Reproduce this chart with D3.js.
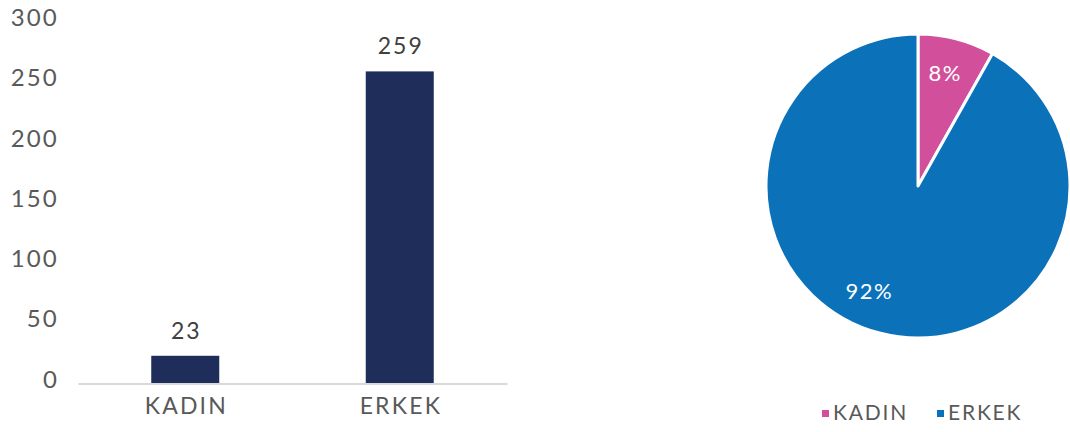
<!DOCTYPE html>
<html><head><meta charset="utf-8">
<script src="https://cdn.jsdelivr.net/npm/d3@7"></script>
<style>body{margin:0;background:#fff}svg{display:block}text{font-family:Lato,"Noto Sans",sans-serif}</style>
</head><body>
<svg id="c" width="1070" height="432"></svg>
<script>
const categories = ["KADIN", "ERKEK"];
const values = [23, 259];
const yTicks = [0, 50, 100, 150, 200, 250, 300];
const pieLabels = ["8%", "92%"];
const colorsPie = ["#D24F9B", "#0B72BA"];

const svg = d3.select("#c");

// Bar chart
const x = d3.scaleBand().domain(categories).range([78, 507]).padding(0);
const y = d3.scaleLinear().domain([0, 300]).range([383.5, 22]);
const barW = x.bandwidth() * 0.317;

const yAxis = d3.axisLeft(y).tickValues(yTicks).tickSize(0).tickPadding(0);
const gy = svg.append("g").attr("transform", "translate(59,-4)").call(yAxis);
gy.select(".domain").remove();
gy.selectAll("text").attr("font-size", 24).attr("fill", "#595959").attr("font-family", "Lato")
  .attr("letter-spacing", 2.2);

svg.selectAll("rect.bar").data(values).enter().append("rect")
  .attr("class", "bar")
  .attr("x", (d, i) => x(categories[i]) + x.bandwidth() / 2 - barW / 2)
  .attr("width", barW)
  .attr("y", d => y(d))
  .attr("height", d => y(0) - y(d))
  .attr("fill", "#1E2D5A");

const xAxis = d3.axisBottom(x).tickSize(0).tickPadding(14);
const gx = svg.append("g").attr("transform", `translate(0,${y(0)})`).call(xAxis);
gx.select(".domain").attr("stroke", "#D9D9D9").attr("stroke-width", 2.2);
gx.selectAll("text").attr("font-size", 23).attr("fill", "#595959").attr("font-family", "Lato")
  .attr("letter-spacing", 2.2).attr("dx", 1.1);

svg.selectAll("text.val").data(values).enter().append("text")
  .attr("class", "val")
  .attr("x", (d, i) => x(categories[i]) + x.bandwidth() / 2 + 1)
  .attr("y", d => y(d) - 17)
  .attr("text-anchor", "middle")
  .attr("font-size", 23).attr("fill", "#404040").attr("letter-spacing", 2)
  .text(d => d);

// Pie chart
const cx = 918, cy = 186, r = 152;
const pie = d3.pie().sort(null).value(d => d);
const arcs = pie(values);
const arc = d3.arc().innerRadius(0).outerRadius(r);
const gp = svg.append("g").attr("transform", `translate(${cx},${cy})`);
gp.selectAll("path").data(arcs).enter().append("path")
  .attr("d", arc)
  .attr("fill", (d, i) => colorsPie[i])
  .attr("stroke", "#fff").attr("stroke-width", 3).attr("stroke-linejoin", "round");

// label placement: radius 0.77r, big slice label shifted toward lower-left like the original
const angleShift = [-0.02, 0.175];
const lr = r * 0.765;
gp.selectAll("text").data(arcs).enter().append("text")
  .attr("transform", (d, i) => {
    const a = (d.startAngle + d.endAngle) / 2 + angleShift[i];
    return `translate(${lr * Math.sin(a)},${-lr * Math.cos(a)})`;
  })
  .attr("text-anchor", "middle").attr("dy", "0.35em")
  .attr("font-size", 22).attr("fill", "#fff").attr("letter-spacing", 1.5)
  .text((d, i) => pieLabels[i]);

// Legend
const legX = [822, 937];
const lg = svg.append("g");
categories.forEach((c, i) => {
  lg.append("rect").attr("x", legX[i]).attr("y", 410).attr("width", 7).attr("height", 7).attr("fill", colorsPie[i]);
  lg.append("text").attr("x", legX[i] + 11).attr("y", 413).attr("dy", "0.35em")
    .attr("font-size", 21).attr("fill", "#595959").attr("letter-spacing", 1.8).text(c);
});
</script>
</body></html>
